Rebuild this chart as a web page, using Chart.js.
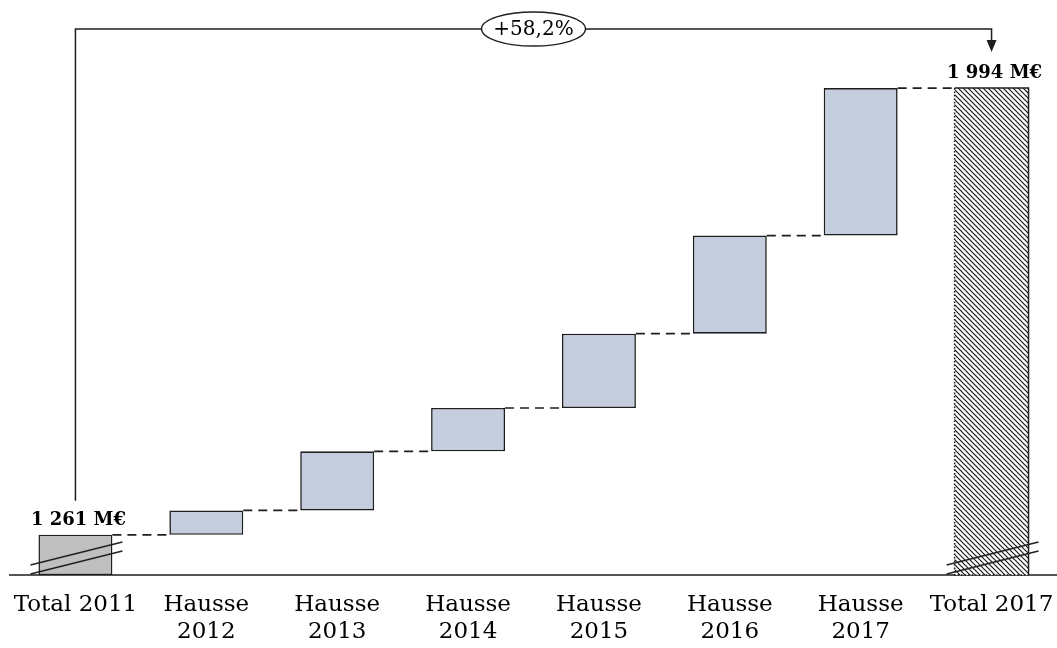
<!DOCTYPE html>
<html>
<head>
<meta charset="utf-8">
<script src="https://cdn.jsdelivr.net/npm/chart.js@4/dist/chart.umd.min.js"></script>
<style>
  html, body { margin: 0; padding: 0; background: #ffffff; }
  #wrap { width: 1057px; height: 648px; }
</style>
</head>
<body>
<div id="wrap"><canvas id="c"></canvas></div>
<script>
// Waterfall: total 2011, yearly increases, total 2017 (M€)
const categories = [
  ['Total 2011'],
  ['Hausse', '2012'],
  ['Hausse', '2013'],
  ['Hausse', '2014'],
  ['Hausse', '2015'],
  ['Hausse', '2016'],
  ['Hausse', '2017'],
  ['Total 2017']
];
const startTotal = 1261;
const increases = [40, 97, 71, 122, 161, 242];
const endTotal = 1994;
const totalLabels = ['1 261 M€', '1 994 M€'];
const growthLabel = '+58,2%';
const axisMin = 1195;
const axisMax = 2040;

// Running levels and bar data built from the arrays above
const levels = [startTotal];
increases.forEach(v => levels.push(levels[levels.length - 1] + v));
const totalsData = categories.map((_, i) => i === 0 ? startTotal : (i === categories.length - 1 ? endTotal : null));
const stepsData = categories.map((_, i) => (i > 0 && i < categories.length - 1) ? [levels[i - 1], levels[i]] : null);

const canvas = document.getElementById('c');
const ctx = canvas.getContext('2d');

function hatchPattern() {
  const s = 5;
  const t = document.createElement('canvas');
  t.width = s; t.height = s;
  const g = t.getContext('2d');
  g.fillStyle = '#ffffff';
  g.fillRect(0, 0, s, s);
  g.strokeStyle = '#1a1a1a';
  g.lineWidth = 1.2;
  g.beginPath();
  g.moveTo(-1, -1); g.lineTo(s + 1, s + 1);
  g.moveTo(-1, s - 1); g.lineTo(1, s + 1);
  g.moveTo(s - 1, -1); g.lineTo(s + 1, 1);
  g.stroke();
  return ctx.createPattern(t, 'repeat');
}

const SERIF = '"DejaVu Serif", "Liberation Serif", serif';
const INK = '#1e1e1e';

const overlay = {
  id: 'overlay',
  afterDatasetsDraw(chart) {
    const c = chart.ctx;
    const yScale = chart.scales.y;
    const totals = chart.getDatasetMeta(0).data;
    const steps = chart.getDatasetMeta(1).data;
    const last = categories.length - 1;
    const first = totals[0];
    const end = totals[last];
    const floor = yScale.getPixelForValue(axisMin);

    // bars in drawing order, to join their tops with dashed lines
    const bars = categories.map((_, i) => (i === 0 || i === last) ? totals[i] : steps[i]);
    c.save();
    c.strokeStyle = INK;
    c.lineWidth = 1.7;
    c.setLineDash([9, 6]);
    for (let i = 0; i < last; i++) {
      const a = bars[i], b = bars[i + 1];
      const y = yScale.getPixelForValue(levels[i]);
      c.beginPath();
      c.moveTo(a.x + a.width / 2, y);
      c.lineTo(b.x - b.width / 2, y);
      c.stroke();
    }
    c.restore();

    // outline of the hatched total: solid top/right, dotted left/bottom
    c.save();
    const l = end.x - end.width / 2, r = end.x + end.width / 2;
    c.strokeStyle = INK;
    c.lineWidth = 1.5;
    c.beginPath();
    c.moveTo(l, end.y); c.lineTo(r, end.y); c.lineTo(r, floor);
    c.stroke();
    c.setLineDash([1.5, 2]);
    c.beginPath();
    c.moveTo(l, end.y); c.lineTo(l, floor); c.lineTo(r, floor);
    c.stroke();
    c.restore();

    // axis-break marks on both totals
    c.save();
    c.strokeStyle = '#222';
    c.lineWidth = 1.6;
    [first, end].forEach(el => {
      const x0 = el.x - el.width / 2 - 8, x1 = el.x + el.width / 2 + 10;
      c.beginPath();
      c.moveTo(x0, floor - 10); c.lineTo(x1, floor - 33);
      c.moveTo(x0, floor - 1); c.lineTo(x1, floor - 24);
      c.stroke();
    });
    c.restore();

    // value labels above the totals
    c.save();
    c.fillStyle = '#000';
    c.font = 'bold 18px ' + SERIF;
    c.textAlign = 'center';
    c.textBaseline = 'alphabetic';
    c.fillText(totalLabels[0], first.x + 3, first.y - 10);
    c.fillText(totalLabels[1], end.x + 3, end.y - 10);
    c.restore();

    // growth bracket from the first total to the last one
    const yb = chart.chartArea.top - 31;
    c.save();
    c.strokeStyle = INK;
    c.fillStyle = INK;
    c.lineWidth = 1.5;
    c.beginPath();
    c.moveTo(first.x, first.y - 34);
    c.lineTo(first.x, yb);
    c.lineTo(end.x, yb);
    c.lineTo(end.x, end.y - 48);
    c.stroke();
    c.beginPath();
    c.moveTo(end.x - 5, end.y - 48);
    c.lineTo(end.x + 5, end.y - 48);
    c.lineTo(end.x, end.y - 36);
    c.closePath();
    c.fill();

    const cx = (first.x + end.x) / 2;
    c.beginPath();
    c.ellipse(cx, yb, 52, 17, 0, 0, Math.PI * 2);
    c.fillStyle = '#ffffff';
    c.fill();
    c.lineWidth = 1.3;
    c.stroke();
    c.fillStyle = '#000';
    c.font = '20px ' + SERIF;
    c.textAlign = 'center';
    c.textBaseline = 'middle';
    c.fillText(growthLabel, cx, yb + 1);
    c.restore();
  }
};

const hatch = hatchPattern();

new Chart(canvas, {
  type: 'bar',
  data: {
    labels: categories,
    datasets: [
      {
        label: 'Total',
        data: totalsData,
        base: axisMin,
        backgroundColor: categories.map((_, i) => i === 0 ? '#bfbfbf' : hatch),
        borderColor: INK,
        borderWidth: categories.map((_, i) => i === 0 ? 1.5 : 0),
        borderSkipped: false,
        grouped: false,
        barPercentage: 0.565,
        categoryPercentage: 1
      },
      {
        label: 'Hausse',
        data: stepsData,
        backgroundColor: '#c4cedf',
        borderColor: INK,
        borderWidth: 1.6,
        borderSkipped: false,
        grouped: false,
        barPercentage: 0.565,
        categoryPercentage: 1
      }
    ]
  },
  options: {
    responsive: true,
    maintainAspectRatio: false,
    animation: false,
    layout: { padding: { top: 60, left: 10, right: 0, bottom: 0 } },
    plugins: {
      legend: { display: false },
      tooltip: { enabled: false }
    },
    scales: {
      x: {
        grid: { display: false, drawTicks: false },
        border: { display: true, color: '#555555', width: 2 },
        ticks: {
          color: '#000',
          font: { family: SERIF, size: 23, lineHeight: 1.2 },
          padding: 16,
          maxRotation: 0,
          autoSkip: false
        },
        afterFit(scale) {
          scale.height = 73;
          scale.paddingLeft = 0;
          scale.paddingRight = 0;
        }
      },
      y: {
        display: false,
        min: axisMin,
        max: axisMax
      }
    }
  },
  plugins: [overlay]
});
</script>
</body>
</html>
